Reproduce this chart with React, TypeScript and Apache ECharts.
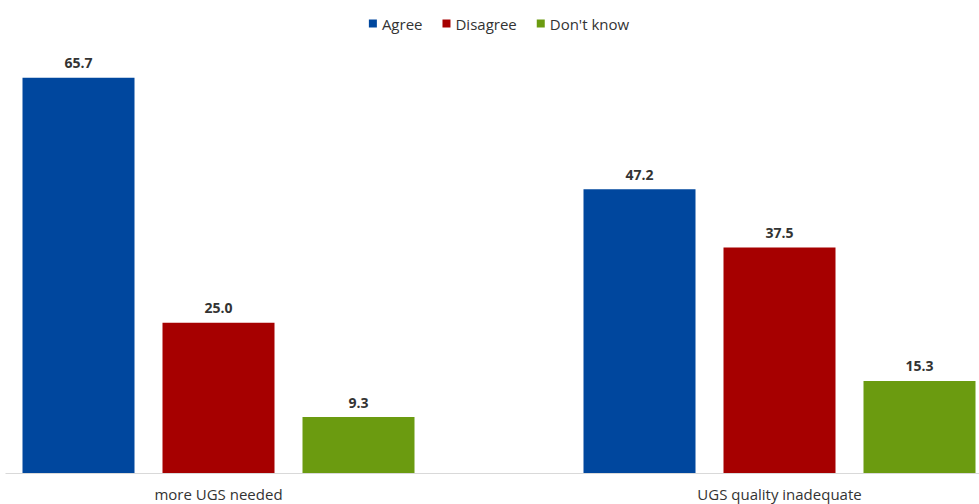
import React, { useEffect, useRef } from "react";
import * as echarts from "echarts";

const categories = ["more UGS needed", "UGS quality inadequate"];
const agree = [65.7, 47.2];
const disagree = [25.0, 37.5];
const dontKnow = [9.3, 15.3];
const seriesNames = ["Agree", "Disagree", "Don't know"];

const FONT = "'Open Sans', sans-serif";
const OFFSET = 62.5;

export default function App() {
  const ref = useRef<HTMLDivElement>(null);
  useEffect(() => {
    if (!ref.current) return;
    const chart = echarts.init(ref.current, undefined, { renderer: "svg" });
    const label = {
      show: true,
      position: "top",
      distance: 8,
      color: "#333333",
      fontSize: 14,
      fontWeight: "bold",
      fontFamily: FONT,
      formatter: (p: any) => Number(p.value).toFixed(1),
    };
    const colors = ["#00479e", "#a60000", "#6b9b10"];
    const data = [agree, disagree, dontKnow];
    chart.setOption({
      animation: false,
      textStyle: { fontFamily: FONT },
      legend: {
        top: 11,
        left: "center",
        itemWidth: 8,
        itemHeight: 8,
        itemGap: 20,
        icon: "rect",
        textStyle: { fontSize: 15, color: "#333333", fontFamily: FONT },
        data: seriesNames,
      },
      grid: { left: 0, right: 0, top: 52, bottom: 31, containLabel: false },
      xAxis: {
        type: "category",
        data: categories,
        axisLine: { show: false },
        axisTick: { show: false },
        axisLabel: { color: "#333333", fontSize: 15, margin: 13, fontFamily: FONT },
      },
      yAxis: {
        type: "value",
        min: 0,
        max: 70,
        show: false,
        splitLine: { show: false },
      },
      graphic: [
        {
          type: "line",
          shape: { x1: 5 + OFFSET, y1: 473.5, x2: 979 + OFFSET, y2: 473.5 },
          style: { stroke: "#d9d9d9", lineWidth: 1 },
          z: 10,
        },
      ],
      series: seriesNames.map((name, i) => ({
        name,
        type: "bar",
        data: data[i],
        barWidth: 112,
        barGap: "25%",
        itemStyle: { color: colors[i] },
        label,
      })),
    });
    return () => chart.dispose();
  }, []);
  return (
    <div style={{ position: "fixed", left: 0, top: 0, width: 979, height: 504, overflow: "hidden", background: "#fff" }}>
      <div ref={ref} style={{ position: "absolute", left: -OFFSET, top: 0, width: 1122, height: 504 }} />
    </div>
  );
}
